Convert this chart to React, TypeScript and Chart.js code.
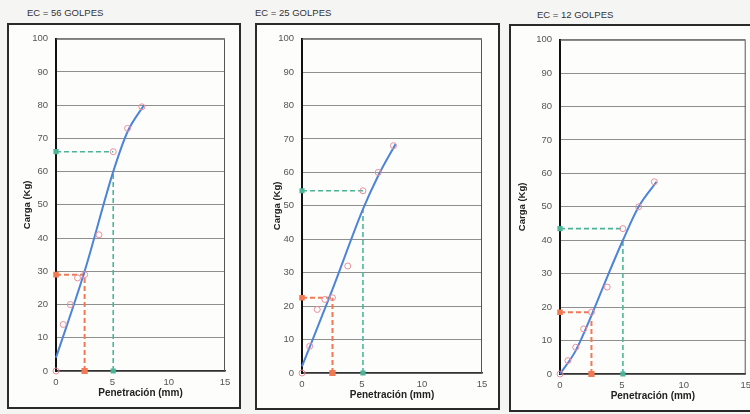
import React, { useEffect, useRef } from "react";
import { Chart, registerables } from "chart.js";

Chart.register(...registerables);

// ---- data ----
const titles = ["EC = 56 GOLPES", "EC = 25 GOLPES", "EC = 12 GOLPES"];
const penetration = [0, 0.64, 1.27, 1.91, 2.54, 3.81, 5.08, 6.35, 7.62];
const load56 = [0, 14, 20, 28, 29, 41, 66, 73, 79.5];
const load25 = [0, 8, 19, 22, 22.5, 32, 54.5, 60, 68];
const load12 = [0, 4, 8, 13.5, 18.5, 26, 43.5, 50, 57.5];

const curveX56 = [0, 2.54, 5.08, 6.35, 7.8];
const curveY56 = [4, 30, 60, 72, 80];
const curveX25 = [0, 2.54, 5.08, 6.35, 7.8];
const curveY25 = [2, 25, 49, 59, 68.5];
const curveX12 = [0, 1.27, 2.54, 3.81, 5.08, 6.35, 7.8];
const curveY12 = [0, 7, 17.5, 29, 40, 50, 57.5];

const pen25 = 2.54;
const pen50 = 5.08;
const read25 = [29, 22.5, 18.5];      // horizontal red reading
const curve25 = [29, 22.5, 16.5];     // top of red vertical
const read50 = [66, 54.5, 43.5];      // horizontal green reading
const curve50 = [60, 49, 40];         // top of green vertical

const xTicks = [0, 5, 10, 15];
const yMax = 100;
const xMax = 15;

const FONT = "'Liberation Sans', Arial, sans-serif";
const PINK = "#e98f9c";
const BLUE = "#4d84d8";
const RED = "#f07a55";
const GREEN = "#4db597";

const framePlugin = {
  id: "frame",
  beforeDatasetsDraw(chart: any) {
    const { ctx, chartArea: a } = chart;
    ctx.save();
    ctx.strokeStyle = "#555";
    ctx.lineWidth = 1;
    ctx.beginPath();
    ctx.moveTo(a.left, a.top + 0.5);
    ctx.lineTo(a.right - 0.5, a.top + 0.5);
    ctx.lineTo(a.right - 0.5, a.bottom);
    ctx.stroke();
    ctx.restore();
  },
};

type PanelProps = {
  idx: number;
  loads: number[];
  cx: number[];
  cy: number[];
  box: { l: number; t: number; w: number; h: number };
  plot: { l: number; r: number; t: number; b: number };
  titlePos: { x: number; y: number };
  yTitlePad: number;
  xTitlePad: number;
};

function Panel(p: PanelProps) {
  const ref = useRef<HTMLCanvasElement | null>(null);
  const cw = p.box.w - 4;
  const ch = p.box.h - 4;
  useEffect(() => {
    const cl = p.box.l + 2;
    const ct = p.box.t + 2;
    const yW = p.plot.l - cl;
    const padTop = p.plot.t - ct;
    const padRight = cl + cw - p.plot.r;
    const xH = ct + ch - p.plot.b;
    const i = p.idx;
    const datasets: any[] = [
      {
        label: "puntos",
        data: penetration.map((x, k) => ({ x, y: p.loads[k] })),
        showLine: false,
        pointStyle: "circle",
        pointRadius: 3,
        borderColor: PINK,
        backgroundColor: "rgba(255,255,255,0)",
        borderWidth: 1,
        order: 0,
      },
      {
        label: "curva",
        data: p.cx.map((x, k) => ({ x, y: p.cy[k] })),
        showLine: true,
        pointRadius: 0,
        borderColor: BLUE,
        borderWidth: 2,
        cubicInterpolationMode: "monotone",
        order: 1,
      },
      {
        label: "rojo-h",
        data: [
          { x: 0, y: read25[i] },
          { x: pen25, y: read25[i] },
        ],
        showLine: true,
        borderColor: RED,
        backgroundColor: RED,
        borderWidth: 2,
        borderDash: [5, 3],
        pointStyle: "rect",
        pointRadius: [2.5, 0],
        order: 2,
      },
      {
        label: "rojo-v",
        data: [
          { x: pen25, y: 0 },
          { x: pen25, y: curve25[i] },
        ],
        showLine: true,
        borderColor: RED,
        backgroundColor: RED,
        borderWidth: 2,
        borderDash: [5, 3],
        pointStyle: "rect",
        pointRadius: [3, 0],
        order: 2,
      },
      {
        label: "verde-h",
        data: [
          { x: 0, y: read50[i] },
          { x: pen50, y: read50[i] },
        ],
        showLine: true,
        borderColor: GREEN,
        backgroundColor: GREEN,
        borderWidth: 1.6,
        borderDash: [5, 3],
        pointStyle: "rect",
        pointRadius: [2.5, 0],
        order: 2,
      },
      {
        label: "verde-v",
        data: [
          { x: pen50, y: 0 },
          { x: pen50, y: curve50[i] },
        ],
        showLine: true,
        borderColor: GREEN,
        backgroundColor: GREEN,
        borderWidth: 1.6,
        borderDash: [5, 3],
        pointStyle: "rect",
        pointRadius: [2.5, 0],
        order: 2,
      },
    ];
    const chart = new Chart(ref.current as HTMLCanvasElement, {
      type: "scatter",
      data: { datasets },
      options: {
        animation: false,
        responsive: false,
        maintainAspectRatio: false,
        clip: false as any,
        layout: { padding: { top: padTop, right: padRight, left: 0, bottom: 0 } },
        plugins: { legend: { display: false }, tooltip: { enabled: false } },
        scales: {
          x: {
            type: "linear",
            min: 0,
            max: xMax,
            afterFit: (s: any) => {
              s.height = xH;
            },
            afterBuildTicks: (s: any) => {
              s.ticks = xTicks.map((v) => ({ value: v }));
            },
            ticks: { padding: 6, color: "#555", font: { family: FONT, size: 9.5 } },
            grid: { display: false, drawTicks: false },
            border: { color: "#333", width: 1.5 },
            title: {
              display: true,
              text: "Penetración (mm)",
              color: "#222",
              font: { family: FONT, size: 10, weight: "bold" },
              padding: { top: 0, bottom: p.xTitlePad },
            },
          },
          y: {
            type: "linear",
            min: 0,
            max: yMax,
            afterFit: (s: any) => {
              s.width = yW;
            },
            ticks: { stepSize: 10, padding: 8, color: "#555", font: { family: FONT, size: 9.5 } },
            grid: { color: "#8f8f8f", lineWidth: 1, drawTicks: false },
            border: { color: "#111", width: 2 },
            title: {
              display: true,
              text: "Carga (Kg)",
              color: "#222",
              font: { family: FONT, size: 9.5, weight: "bold" },
              padding: { top: p.yTitlePad, bottom: 0 },
            },
          },
        },
      },
      plugins: [framePlugin],
    } as any);
    return () => chart.destroy();
  }, []);
  return (
    <>
      <div
        style={{
          position: "absolute",
          left: p.titlePos.x,
          top: p.titlePos.y,
          fontFamily: FONT,
          fontSize: 9.5,
          color: "#333",
          whiteSpace: "nowrap",
        }}
      >
        {titles[p.idx]}
      </div>
      <div
        style={{
          position: "absolute",
          left: p.box.l,
          top: p.box.t,
          width: cw,
          height: ch,
          border: "2px solid #2a2a2a",
          background: "#fdfdfc",
        }}
      >
        <canvas ref={ref} width={cw} height={ch} style={{ display: "block", width: cw, height: ch }} />
      </div>
    </>
  );
}

export default function App() {
  return (
    <div
      style={{
        position: "fixed",
        left: 0,
        top: 0,
        width: 750,
        height: 414,
        overflow: "hidden",
        background: "#f5f5f3",
      }}
    >
      <Panel
        idx={0}
        loads={load56}
        cx={curveX56}
        cy={curveY56}
        box={{ l: 7, t: 23, w: 234, h: 386 }}
        plot={{ l: 56, r: 225, t: 37, b: 371 }}
        titlePos={{ x: 27, y: 7 }}
        yTitlePad={13}
        xTitlePad={8}
      />
      <Panel
        idx={1}
        loads={load25}
        cx={curveX25}
        cy={curveY25}
        box={{ l: 255, t: 23, w: 245, h: 387 }}
        plot={{ l: 302, r: 482, t: 37, b: 373 }}
        titlePos={{ x: 255, y: 7 }}
        yTitlePad={15}
        xTitlePad={7}
      />
      <Panel
        idx={2}
        loads={load12}
        cx={curveX12}
        cy={curveY12}
        box={{ l: 509, t: 24, w: 250, h: 388 }}
        plot={{ l: 560, r: 748, t: 39, b: 374 }}
        titlePos={{ x: 537, y: 9 }}
        yTitlePad={6}
        xTitlePad={8}
      />
    </div>
  );
}
